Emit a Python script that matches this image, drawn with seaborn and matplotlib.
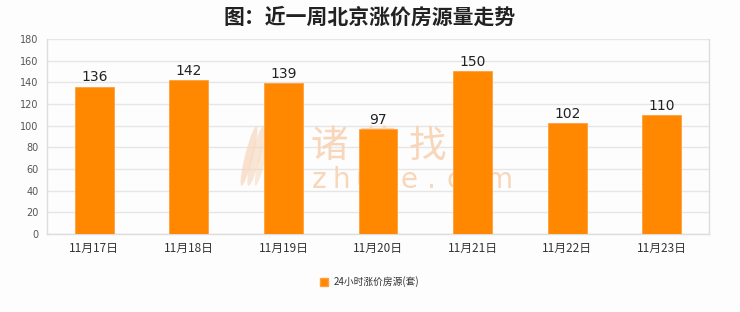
import matplotlib
matplotlib.use("Agg")
import matplotlib.pyplot as plt
import seaborn as sns
import pandas as pd
from matplotlib.patches import Patch, Ellipse

dates = ["11月17日", "11月18日", "11月19日", "11月20日", "11月21日", "11月22日", "11月23日"]
values = [136, 142, 139, 97, 150, 102, 110]
series_name = "24小时涨价房源(套)"
title = "图：近一周北京涨价房源量走势"
yticks = [0, 20, 40, 60, 80, 100, 120, 140, 160, 180]
watermark_cn = "诸葛找房"
watermark_en = "zhuge.com"

sns.set_theme(style="white")
plt.rcParams['font.family'] = ['Noto Sans CJK SC', 'DejaVu Sans']

df = pd.DataFrame({"date": dates, "value": values})

W, H = 740, 312
fig = plt.figure(figsize=(7.4, 3.12), dpi=100, facecolor="#fdfdfd")
ax = fig.add_axes([47/W, 1-234/H, (709-47)/W, (234-39)/H])
ax.set_facecolor("#fdfdfd")

orange = "#ff8800"
sns.barplot(data=df, x="date", y="value", color=orange, width=0.41,
            saturation=1, edgecolor="#ffa040", linewidth=0.6, ax=ax, zorder=3)

# watermark (behind bars)
wm_color = "#f7d6ba"
ft = fig.transFigure
for dx, w, a in [(-5, 8, 0.7), (2, 9, 0.6), (9, 7, 0.5)]:
    ax.add_patch(Ellipse(((254 + dx)/W, 1-156/H), w/W, 60/H, angle=-6, transform=ft,
                         facecolor=wm_color, edgecolor="none", zorder=1, alpha=a))
for k, ch in enumerate(watermark_cn):
    ax.text((329 + 49*k)/W, 1-146/H, ch, transform=ft, ha="center", va="center",
            fontsize=27, color=wm_color, zorder=1)
for k, ch in enumerate(watermark_en):
    ax.text((319 + 22.5*k)/W, 1-180/H, ch, transform=ft, ha="center", va="center",
            fontsize=20, color=wm_color, zorder=1, family=['DejaVu Sans'])

for i, v in enumerate(values):
    ax.text(i, v + 2, str(v), ha="center", va="bottom", fontsize=10,
            color="#222222", family=['DejaVu Sans'], zorder=4)

ax.set_ylim(0, 180)
ax.set_yticks(yticks)
ax.set_yticklabels([str(t) for t in yticks], fontsize=7, color="#555555", family=['DejaVu Sans'])
ax.tick_params(axis="x", labelsize=8.5, colors="#333333", length=0, pad=6)
ax.tick_params(axis="y", length=0, pad=6)
ax.set_xlabel("")
ax.set_ylabel("")
ax.grid(axis="y", color="#e6e6e6", linewidth=1, zorder=0)
ax.set_axisbelow(True)
for s in ["left", "right", "top", "bottom"]:
    ax.spines[s].set_color("#dddddd")
    ax.spines[s].set_linewidth(1)
ax.spines["top"].set_visible(False)

fig.text(370/W, 1-17/H, title, ha="center", va="center", fontsize=15,
         fontweight="bold", color="#222222")

handles = [Patch(facecolor=orange, edgecolor="#ffa040", label=series_name)]
leg = fig.legend(handles=handles, loc="center", bbox_to_anchor=(370/W, 1-282/H),
                 frameon=False, fontsize=7, handlelength=0.8, handleheight=0.8,
                 handletextpad=0.6)
for t in leg.get_texts():
    t.set_color("#333333")

fig.savefig("out.png", dpi=100, facecolor=fig.get_facecolor())
